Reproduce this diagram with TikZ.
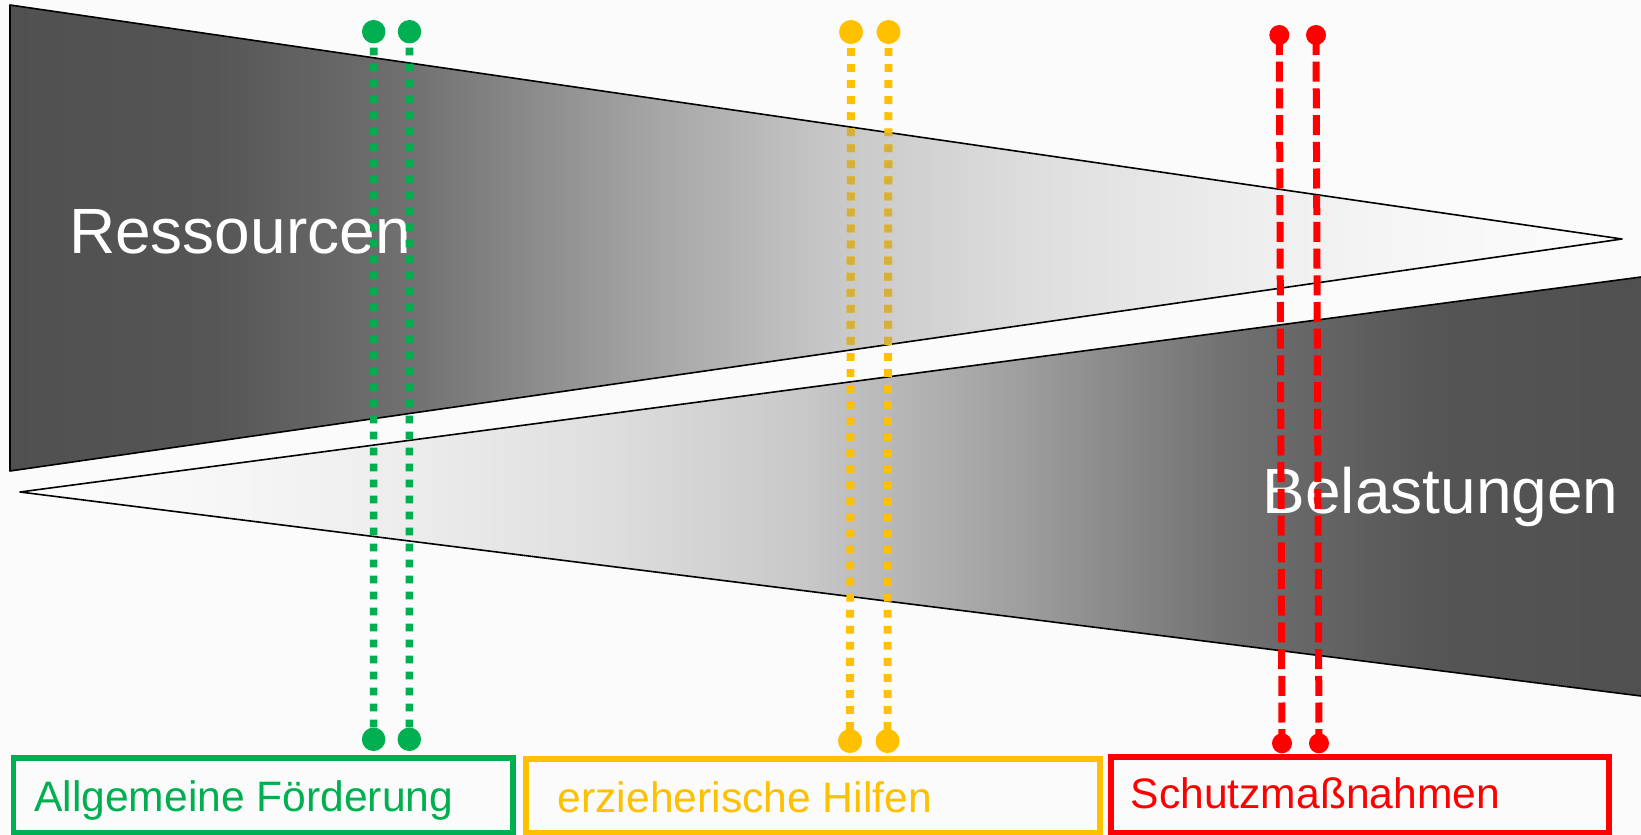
\documentclass[tikz,border=0pt]{standalone}
\usepackage{fontspec}
\setmainfont{Liberation Sans}
\definecolor{bg}{HTML}{FBFBFB}
\definecolor{cgreen}{HTML}{00B050}
\definecolor{cyellow}{HTML}{FFC000}
\definecolor{ytint}{HTML}{D5B03C}
\definecolor{cred}{HTML}{FF0000}
\definecolor{s0}{gray}{0.314}
\definecolor{s1}{gray}{0.333}
\definecolor{s2}{gray}{0.447}
\definecolor{s3}{gray}{0.627}
\definecolor{s4}{gray}{0.784}
\definecolor{s5}{gray}{0.875}
\definecolor{s6}{gray}{0.933}
\definecolor{s7}{gray}{0.973}
\definecolor{s8}{gray}{0.985}
\pgfdeclarehorizontalshading{resshade}{100bp}{color(0bp)=(s0); color(25bp)=(s0); color(31.16bp)=(s1); color(37.67bp)=(s2); color(44.14bp)=(s3); color(50.62bp)=(s4); color(57.13bp)=(s5); color(63.6bp)=(s6); color(70.07bp)=(s7); color(75bp)=(s8); color(100bp)=(s8)}
\pgfdeclarehorizontalshading{belshade}{100bp}{color(0bp)=(s8); color(25bp)=(s8); color(29.87bp)=(s7); color(36.31bp)=(s6); color(42.74bp)=(s5); color(49.21bp)=(s4); color(55.65bp)=(s3); color(62.09bp)=(s2); color(68.56bp)=(s1); color(75bp)=(s0); color(100bp)=(s0)}
\tikzset{
  outline/.style={draw=black, line width=1.6pt, line join=round},
  gdot/.style={circle, fill=cgreen, inner sep=0pt, minimum size=23.5pt},
  ydot/.style={circle, fill=cyellow, inner sep=0pt, minimum size=24pt},
  rdot/.style={circle, fill=cred, inner sep=0pt, minimum size=20pt},
  gline/.style={draw=cgreen, line width=7.6pt, dash pattern=on 7.7pt off 8.3pt},
  yline/.style={draw=cyellow, line width=7.9pt, dash pattern=on 7.8pt off 8.25pt},
  rline/.style={draw=cred, line width=7pt, dash pattern=on 20pt off 6.7pt},
  labelbox/.style={rectangle, line width=5.7pt, inner sep=0pt},
  boxtext/.style={anchor=base west, inner sep=0pt, font=\fontsize{42.6}{50}\selectfont},
  bigtext/.style={anchor=base west, inner sep=0pt, text=white, font=\fontsize{64}{76}\selectfont}
}
\begin{document}
\begin{tikzpicture}[x=1pt,y=-1pt]
\useasboundingbox (0,0) rectangle (1641,835);
\fill[bg] (0,0) rectangle (1641,835);
% upper triangle (Ressourcen)
\shade[shading=resshade] (10,5) -- (1622,239) -- (10,471) -- cycle;
\draw[outline] (10,5) -- (1622,239) -- (10,471) -- cycle;
% lower triangle (Belastungen)
\shade[shading=belshade] (1641,277) -- (20,492) -- (1641,696) -- cycle;
\draw[outline] (1641,277) -- (20,492) -- (1641,696);
\node[bigtext] (res) at (69,253) {Ressourcen};
\node[bigtext] (bel) at (1262.5,513) {Belastungen};
% boxes
\node[labelbox, draw=cgreen, minimum width=499.5pt, minimum height=74.5pt] (gbox) at (263.25,795.25) {};
\node[labelbox, draw=cyellow, minimum width=574.3pt, minimum height=73.8pt] (ybox) at (812.85,796.1) {};
\node[labelbox, draw=cred, minimum width=498.3pt, minimum height=75.8pt] (rbox) at (1359.85,794.6) {};
\node[boxtext, text=cgreen] (gtext) at (34,811.7) {Allgemeine Förderung};
\node[boxtext, text=cyellow] (ytext) at (557.5,812.7) {erzieherische Hilfen};
\node[boxtext, text=cred] (rtext) at (1130.5,808.3) {Schutzmaßnahmen};
% dots
\node[gdot] (g1t) at (373.7,31.7) {};
\node[gdot] (g1b) at (373.6,739.3) {};
\node[gdot] (g2t) at (409.5,31.7) {};
\node[gdot] (g2b) at (409.3,739.3) {};
\node[ydot] (y1t) at (851,32) {};
\node[ydot] (y1b) at (850,741) {};
\node[ydot] (y2t) at (888.5,32) {};
\node[ydot] (y2b) at (887.5,741) {};
\node[rdot] (r1t) at (1279.3,35) {};
\node[rdot] (r1b) at (1282,743.3) {};
\node[rdot] (r2t) at (1316,35) {};
\node[rdot] (r2b) at (1319,743.3) {};
% connectors
\draw[gline] (g1t.center) -- (g1b.center);
\draw[gline] (g2t.center) -- (g2b.center);
\draw[yline] (y1t.center) -- (y1b.center);
\draw[yline] (y2t.center) -- (y2b.center);
\draw[rline] (r1t.center) -- (r1b.center);
\draw[rline] (r2t.center) -- (r2b.center);
% darker tint of the yellow lines where they cross the upper triangle
\begin{scope}
  \clip (10,5) -- (1622,239) -- (10,471) -- cycle;
  \draw[yline, draw=ytint] (y1t.center) -- (y1b.center);
  \draw[yline, draw=ytint] (y2t.center) -- (y2b.center);
\end{scope}
\end{tikzpicture}
\end{document}
